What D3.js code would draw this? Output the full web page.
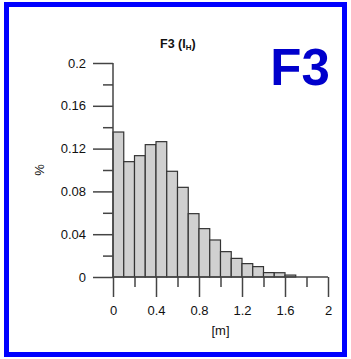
<!DOCTYPE html>
<html>
<head>
<meta charset="utf-8">
<script src="https://cdn.jsdelivr.net/npm/d3@7"></script>
<style>
  html, body { margin: 0; padding: 0; background: #fff; }
  svg { display: block; font-family: "Liberation Sans", Arial, sans-serif; }
</style>
</head>
<body>
<svg id="chart" width="351" height="359"></svg>
<script>
// Histogram bin edges (m) and relative frequencies
const binStarts = [0, 0.1, 0.2, 0.3, 0.4, 0.5, 0.6, 0.7, 0.8, 0.9, 1.0, 1.1, 1.2, 1.3, 1.4, 1.5, 1.6];
const binWidth = 0.1;
const frequencies = [0.1355, 0.1078, 0.1134, 0.1237, 0.1265, 0.0988, 0.0838, 0.0592, 0.0452,
                     0.0346, 0.0237, 0.0174, 0.0125, 0.0097, 0.0041, 0.0040, 0.0018];
const xMajorTicks = [0, 0.4, 0.8, 1.2, 1.6, 2];
const xMinorTicks = [0.2, 0.6, 1.0, 1.4, 1.8];
const yMajorTicks = [0, 0.04, 0.08, 0.12, 0.16, 0.2];
const yMinorTicks = [0.02, 0.06, 0.10, 0.14, 0.18];

const svg = d3.select("#chart");

// Blue frame
svg.append("rect")
  .attr("x", 6.5).attr("y", 4.5)
  .attr("width", 338).attr("height", 350)
  .attr("fill", "none").attr("stroke", "#0000ff").attr("stroke-width", 5);

const x = d3.scaleLinear().domain([0, 2]).range([113, 328]);
const y = d3.scaleLinear().domain([0, 0.2]).range([277, 63]);

const axisColor = "#444";

// Bars
svg.append("g").selectAll("rect")
  .data(binStarts.map((s, i) => ({ s, v: frequencies[i] })))
  .join("rect")
  .attr("x", d => x(d.s))
  .attr("y", d => y(d.v))
  .attr("width", d => x(d.s + binWidth) - x(d.s))
  .attr("height", d => y(0) - y(d.v))
  .attr("fill", "#d0d0d0")
  .attr("stroke", "#333")
  .attr("stroke-width", 1.2);

// Y axis: major and minor ticks
const yAxis = d3.axisLeft(y).tickValues(yMajorTicks).tickSize(20).tickPadding(7)
  .tickFormat(d => d3.format("~g")(+d.toFixed(2)));
const gy = svg.append("g").attr("transform", `translate(${x(0)},0)`).call(yAxis);
const yMinor = d3.axisLeft(y).tickValues(yMinorTicks).tickSize(10).tickFormat("");
const gym = svg.append("g").attr("transform", `translate(${x(0)},0)`).call(yMinor);

// X axis: major and minor ticks
const xAxis = d3.axisBottom(x).tickValues(xMajorTicks).tickSize(20).tickPadding(9)
  .tickFormat(d => d3.format("~g")(d));
const gx = svg.append("g").attr("transform", `translate(0,${y(0)})`).call(xAxis);
const xMinor = d3.axisBottom(x).tickValues(xMinorTicks).tickSize(10).tickFormat("");
const gxm = svg.append("g").attr("transform", `translate(0,${y(0)})`).call(xMinor);

[gy, gym, gx, gxm].forEach(g => {
  g.select(".domain").attr("stroke", axisColor).attr("stroke-width", 1.5);
  g.selectAll(".tick line").attr("stroke", axisColor).attr("stroke-width", 1.5);
  g.selectAll(".tick text").attr("fill", "#111").attr("font-size", 13)
    .attr("font-family", "'Liberation Sans', Arial, sans-serif");
});
gy.select(".domain").attr("d", `M0,${y(0.2)}V${y(0)}`);
gym.select(".domain").remove();
gx.select(".domain").attr("d", `M${x(0)},0H${x(2)}`);
gxm.select(".domain").remove();

// Axis titles
svg.append("text")
  .attr("transform", "translate(44,170) rotate(-90)")
  .attr("text-anchor", "middle")
  .attr("font-size", 13).attr("fill", "#111")
  .text("%");
svg.append("text")
  .attr("x", x(1)).attr("y", 335)
  .attr("text-anchor", "middle")
  .attr("font-size", 13).attr("fill", "#111")
  .text("[m]");

// Plot title with subscript
const title = svg.append("text")
  .attr("x", 160).attr("y", 48)
  .attr("font-size", 12.5).attr("font-weight", "bold").attr("fill", "#111");
title.append("tspan").text("F3 (I");
title.append("tspan").attr("font-size", 8).attr("dy", 2).text("H");
title.append("tspan").attr("dy", -2).text(")");

// Panel label
svg.append("text")
  .attr("x", 300).attr("y", 85)
  .attr("text-anchor", "middle")
  .attr("font-size", 51).attr("font-weight", "bold").attr("fill", "#0000cc")
  .text("F3");
</script>
</body>
</html>
